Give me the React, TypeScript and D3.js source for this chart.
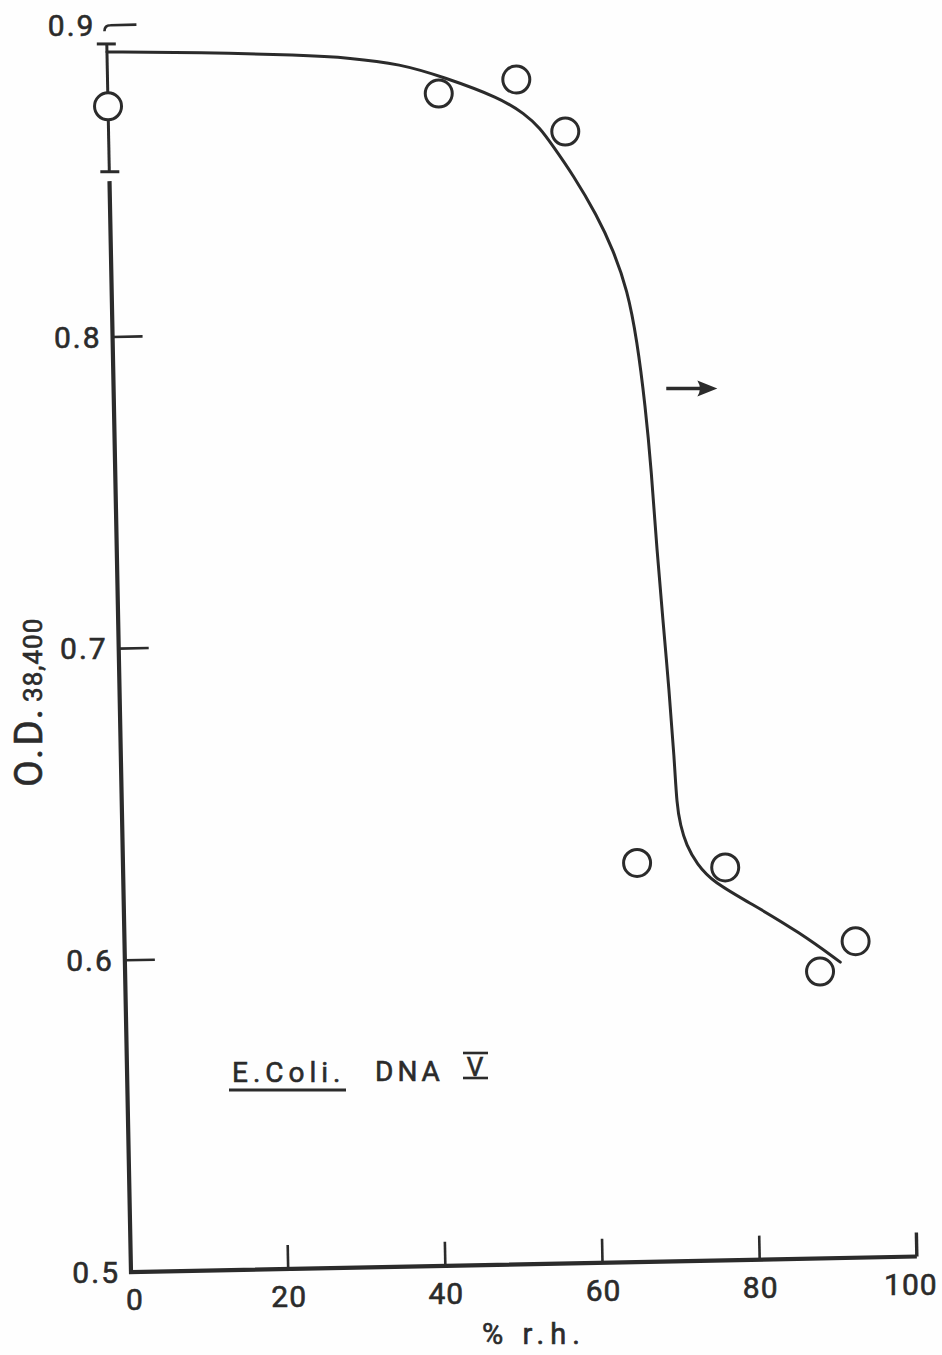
import React from "react";
import * as d3 from "d3";

// Measured optical density vs relative humidity (E. coli DNA V)
const rhPct = [0, 42.1, 52.0, 58.1, 65.4, 76.6, 88.4, 93.0];
const odValues = [0.874, 0.876, 0.88, 0.863, 0.628, 0.626, 0.592, 0.6015];

// Spread of the dry (0 % r.h.) reading
const errRh = [0];
const errLo = [0.853];
const errHi = [0.894];

// Hand-fitted smooth curve through the measurements
const curveRh = [0, 11.8, 24.6, 30.9, 37.3, 42.7, 49.9, 53.0, 54.9, 56.4, 59.0, 61.9, 63.9, 65.6, 66.7, 67.6, 68.2, 68.7, 69.3, 69.9, 70.4, 70.6, 71.0, 71.7, 73.0, 75.0, 79.7, 86.0, 91.0];
const curveOd = [0.8914, 0.8907, 0.8892, 0.888, 0.8857, 0.8813, 0.8742, 0.8689, 0.8643, 0.8588, 0.849, 0.836, 0.8247, 0.8118, 0.7957, 0.7742, 0.7539, 0.7282, 0.7057, 0.6833, 0.6608, 0.6463, 0.6399, 0.6334, 0.6273, 0.6214, 0.6144, 0.6045, 0.5949];

const xTicks = [0, 20, 40, 60, 80, 100];
const yTicks = [0.5, 0.6, 0.7, 0.8, 0.9];
const yTickLabels = ["0.5", "0.6", "0.7", "0.8", "0.9"];

// Direction marker
const arrowRh = [70.3, 76.8];
const arrowOd = 0.78;

const W = 942;
const H = 1355;
const INK = "#2b2b2b";
const FONT = "Roboto, 'DejaVu Sans', sans-serif";

export default function App() {
  const origin = { x: 131, y: 1272 };
  const theta = 0.0197; // the whole frame sits slightly tilted
  const cos = Math.cos(theta);
  const sin = Math.sin(theta);

  const xScale = d3.scaleLinear().domain([0, 100]).range([0, 786]);
  const yScale = d3.scaleLinear().domain([0.5, 0.9]).range([0, 1247]);

  const project = (rh: number, od: number): [number, number] => {
    const u = xScale(rh);
    const h = yScale(od);
    return [origin.x + u * cos - h * sin, origin.y - u * sin - h * cos];
  };

  const line = d3
    .line<[number, number]>()
    .x((d) => d[0])
    .y((d) => d[1])
    .curve(d3.curveBasis);

  const curvePts = curveRh.map((r, i) => project(r, curveOd[i]));
  const curvePath = line(curvePts) || "";

  const axisBottom = project(0, 0.5);
  const axisTop = project(0, 0.85);
  const xEnd = project(100, 0.5);

  const tickLenY = 30;
  const tickLenX = 24;

  const a0 = project(arrowRh[0], arrowOd);
  const a1 = project(arrowRh[1], arrowOd);

  const textProps = { fontFamily: FONT, fill: INK };

  return (
    <svg
      width={W}
      height={H}
      viewBox={`0 0 ${W} ${H}`}
      style={{ position: "absolute", left: 0, top: 0, display: "block", background: "#fefefe" }}
    >
      <rect x={0} y={0} width={W} height={H} fill="#fefefe" />

      {/* axes */}
      <path
        d={`M${axisTop[0]},${axisTop[1]} L${axisBottom[0]},${axisBottom[1]} L${xEnd[0]},${xEnd[1]}`}
        fill="none"
        stroke={INK}
        strokeWidth={4.2}
        strokeLinejoin="miter"
      />

      {/* y ticks */}
      {yTicks.map((v, i) => {
        const [px, py] = project(0, v);
        const isTop = i === yTicks.length - 1;
        const d = isTop
          ? `M${px - 2},${py + 6} Q${px - 2},${py} ${px + 4},${py} L${px + tickLenY * cos},${py - tickLenY * sin}`
          : `M${px},${py} L${px + tickLenY * cos},${py - tickLenY * sin}`;
        return (
          <g key={`yt${v}`}>
            {i > 0 && <path d={d} fill="none" stroke={INK} strokeWidth={2.6} />}
            <text
              {...textProps}
              x={px - 11}
              y={py}
              dy="0.36em"
              textAnchor="end"
              fontSize={30}
              letterSpacing={2}
              stroke={INK}
              strokeWidth={0.6}
            >
              {yTickLabels[i]}
            </text>
          </g>
        );
      })}

      {/* x ticks */}
      {xTicks.map((t) => {
        const [px, py] = project(t, 0.5);
        return (
          <g key={`xt${t}`}>
            {t > 0 && (
              <line
                x1={px}
                y1={py}
                x2={px - tickLenX * sin}
                y2={py - tickLenX * cos}
                stroke={INK}
                strokeWidth={t === 100 ? 3.4 : 2.6}
              />
            )}
            <text
              {...textProps}
              x={px + (t === 0 ? 4 : t === 100 ? -6 : 1)}
              y={py + 38}
              textAnchor="middle"
              fontSize={30}
              letterSpacing={1}
              stroke={INK}
              strokeWidth={0.6}
            >
              {t}
            </text>
          </g>
        );
      })}

      {/* error bar on the dry reading */}
      {errRh.map((r, i) => {
        const lo = project(r, errLo[i]);
        const hi = project(r, errHi[i]);
        return (
          <g key={`eb${i}`} stroke={INK} strokeWidth={3}>
            <line x1={lo[0]} y1={lo[1]} x2={hi[0]} y2={hi[1]} />
            <line x1={lo[0] - 9} y1={lo[1]} x2={lo[0] + 10} y2={lo[1]} />
            <line x1={hi[0] - 10} y1={hi[1]} x2={hi[0] + 9} y2={hi[1]} />
          </g>
        );
      })}

      {/* fitted curve */}
      <path d={curvePath} fill="none" stroke={INK} strokeWidth={3} strokeLinecap="round" />

      {/* measurements */}
      {rhPct.map((r, i) => {
        const [px, py] = project(r, odValues[i]);
        return (
          <circle key={`pt${i}`} cx={px} cy={py} r={13.5} fill="#fefefe" stroke={INK} strokeWidth={3} />
        );
      })}

      {/* arrow */}
      <line x1={a0[0]} y1={a0[1]} x2={a1[0] - 14} y2={a0[1]} stroke={INK} strokeWidth={3.5} />
      <path
        d={`M${a1[0]},${a0[1]} L${a1[0] - 20},${a0[1] - 8} Q${a1[0] - 15},${a0[1]} ${a1[0] - 20},${a0[1] + 8} Z`}
        fill={INK}
      />

      {/* y-axis title */}
      <g transform={`translate(42,787) rotate(-90)`}>
        <text {...textProps} x={0} y={0} stroke={INK} strokeWidth={0.6}>
          <tspan fontSize={39} letterSpacing={3}>O.D.</tspan>
          <tspan fontSize={26} letterSpacing={1} dx={4}>38,400</tspan>
        </text>
      </g>

      {/* x-axis title */}
      <text
        {...textProps}
        x={534}
        y={1344}
        textAnchor="middle"
        fontSize={29}
        letterSpacing={6}
        stroke={INK}
        strokeWidth={0.6}
      >
        % r.h.
      </text>

      {/* sample annotation */}
      <g stroke={INK} strokeWidth={0.6}>
        <text {...textProps} x={232} y={1082} fontSize={28} letterSpacing={5}>
          E.Coli.
        </text>
        <text {...textProps} x={375} y={1081} fontSize={28} letterSpacing={4}>
          DNA
        </text>
        <text {...textProps} x={475} y={1076} textAnchor="middle" fontSize={26}>
          V
        </text>
      </g>
      <line x1={229} y1={1090} x2={346} y2={1090} stroke={INK} strokeWidth={3} />
      <line x1={463} y1={1053} x2={488} y2={1053} stroke={INK} strokeWidth={2.6} />
      <line x1={463} y1={1078} x2={488} y2={1078} stroke={INK} strokeWidth={2.6} />
    </svg>
  );
}
